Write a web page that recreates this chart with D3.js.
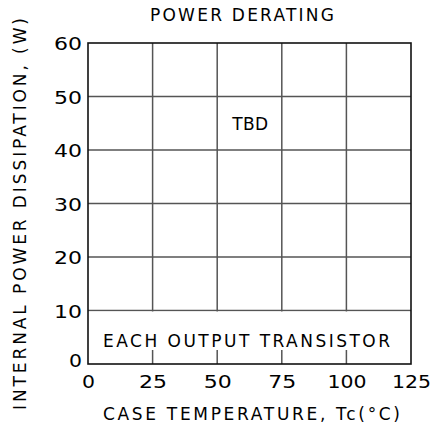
<!DOCTYPE html>
<html><head><meta charset="utf-8">
<script src="https://cdn.jsdelivr.net/npm/d3@7"></script>
<style>body{margin:0;background:#fff}svg text{font-family:"DejaVu Sans",sans-serif;fill:#000}</style>
</head><body>
<script>
const title = "POWER DERATING";
const xTitle = "CASE TEMPERATURE, Tc(°C)";
const yTitle = "INTERNAL POWER DISSIPATION, (W)";
const xTicks = [0, 25, 50, 75, 100, 125];
const yTicks = [0, 10, 20, 30, 40, 50, 60];
const noteTop = "TBD";
const noteBottom = "EACH OUTPUT TRANSISTOR";

const W = 432, H = 436;
const m = {l: 88, r: 21, t: 43, b: 72};
const svg = d3.select("body").append("svg").attr("width", W).attr("height", H);
const x = d3.scaleLinear().domain([0, 125]).range([m.l, W - m.r]);
const y = d3.scaleLinear().domain([0, 60]).range([H - m.b, m.t]);

const g = svg.append("g");
g.selectAll(".vx").data(xTicks.slice(1, -1)).join("line")
  .attr("x1", d => x(d)).attr("x2", d => x(d)).attr("y1", y(60)).attr("y2", y(0))
  .attr("stroke", "#555").attr("stroke-width", 1.5);
g.selectAll(".hy").data(yTicks.slice(1, -1)).join("line")
  .attr("x1", x(0)).attr("x2", x(125)).attr("y1", d => y(d)).attr("y2", d => y(d))
  .attr("stroke", "#555").attr("stroke-width", 1.5);

g.append("rect").attr("x", x(0) + 1).attr("width", x(125) - x(0) - 2)
  .attr("y", y(10) + 1).attr("height", (y(0) - 14) - y(10) - 1).attr("fill", "#fff");

g.append("rect").attr("x", x(0)).attr("y", y(60)).attr("width", x(125) - x(0)).attr("height", y(0) - y(60))
  .attr("fill", "none").attr("stroke", "#111").attr("stroke-width", 1.6);

const lenFor = s => s.length === 1 ? 13 : (s.length === 2 ? 28 : 39);

const xa = svg.append("g").attr("transform", `translate(0,${y(0)})`)
  .call(d3.axisBottom(x).tickValues(xTicks).tickSize(0).tickPadding(0));
xa.select(".domain").remove();
xa.selectAll("text").attr("dy", null).attr("y", 24).attr("font-size", 17)
  .attr("font-family", '"DejaVu Sans",sans-serif').attr("fill", "#000")
  .attr("textLength", d => lenFor(String(d))).attr("lengthAdjust", "spacingAndGlyphs");

const ya = svg.append("g").attr("transform", `translate(${x(0)},0)`)
  .call(d3.axisLeft(y).tickValues(yTicks).tickSize(0).tickPadding(6));
ya.select(".domain").remove();
ya.selectAll("text").attr("dy", "0.4em").attr("font-size", 17)
  .attr("y", d => d === 0 ? -4 : 0)
  .attr("font-family", '"DejaVu Sans",sans-serif').attr("fill", "#000")
  .attr("textLength", d => lenFor(String(d))).attr("lengthAdjust", "spacingAndGlyphs");

svg.append("text").attr("x", 242).attr("y", 21).attr("text-anchor", "middle")
  .attr("font-size", 17).attr("textLength", 184).attr("lengthAdjust", "spacing").text(title);
svg.append("text").attr("x", 251.5).attr("y", 420).attr("text-anchor", "middle")
  .attr("font-size", 17).attr("textLength", 297).attr("lengthAdjust", "spacing").text(xTitle);
svg.append("text").attr("transform", "translate(26,214) rotate(-90)").attr("text-anchor", "middle")
  .attr("font-size", 17).attr("textLength", 392).attr("lengthAdjust", "spacing").text(yTitle);

svg.append("text").attr("x", x(50) + 33).attr("y", y(40) - 20).attr("text-anchor", "middle")
  .attr("font-size", 17).attr("textLength", 36).attr("lengthAdjust", "spacing").text(noteTop);
svg.append("text").attr("x", 246.5).attr("y", 347).attr("text-anchor", "middle")
  .attr("font-size", 17).attr("textLength", 287).attr("lengthAdjust", "spacing").text(noteBottom);
</script>
</body></html>
